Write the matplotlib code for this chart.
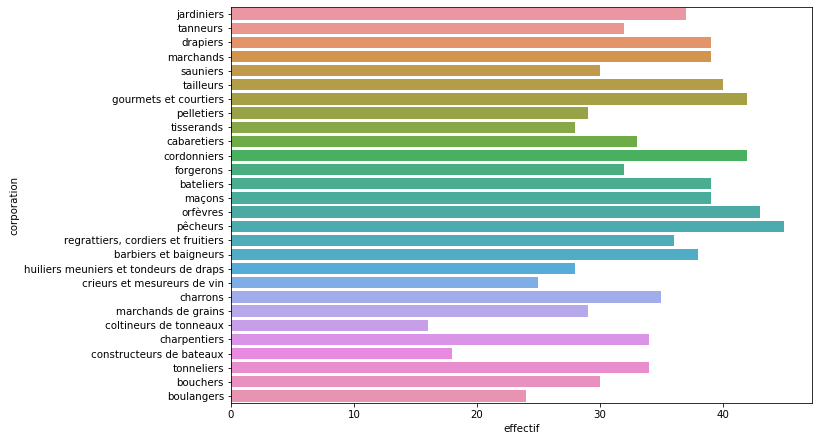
import matplotlib
matplotlib.use("Agg")
import matplotlib.pyplot as plt
import seaborn as sns

corporations = [
    "jardiniers", "tanneurs", "drapiers", "marchands", "sauniers", "tailleurs",
    "gourmets et courtiers", "pelletiers", "tisserands", "cabaretiers",
    "cordonniers", "forgerons", "bateliers", "maçons", "orfèvres", "pêcheurs",
    "regrattiers, cordiers et fruitiers", "barbiers et baigneurs",
    "huiliers meuniers et tondeurs de draps", "crieurs et mesureurs de vin",
    "charrons", "marchands de grains", "coltineurs de tonneaux", "charpentiers",
    "constructeurs de bateaux", "tonneliers", "bouchers", "boulangers",
]
effectif = [37, 32, 39, 39, 30, 40, 42, 29, 28, 33, 42, 32, 39, 39, 43, 45,
            36, 38, 28, 25, 35, 29, 16, 34, 18, 34, 30, 24]

plt.rcParams['font.size'] = 10.3
fig = plt.figure(figsize=(820 / 72, 443 / 72), dpi=72)
ax = fig.add_axes([231 / 820, 1 - 403 / 443, (812 - 231) / 820, (403 - 7) / 443])

palette = sns.husl_palette(len(corporations), l=.7)
sns.barplot(x=effectif, y=corporations, hue=corporations, palette=palette,
            saturation=0.75, legend=False, ax=ax, orient="h")
ax.set_xlabel("effectif")
ax.set_ylabel("corporation")
ax.set_xlim(0, 47.25)

fig.savefig("out.png", dpi=72)
